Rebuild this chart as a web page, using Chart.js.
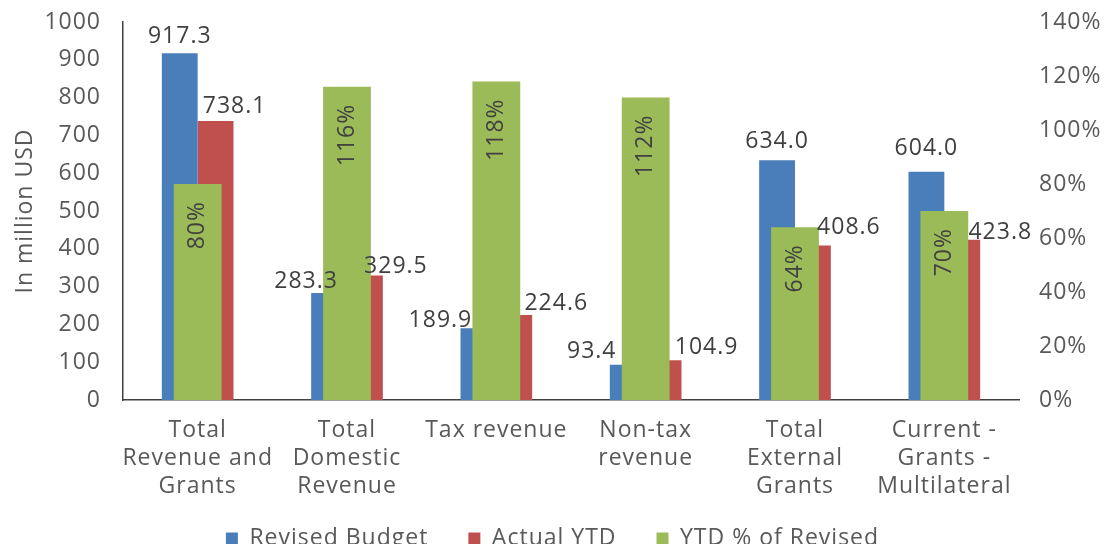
<!DOCTYPE html>
<html>
<head>
<meta charset="utf-8">
<script src="https://cdn.jsdelivr.net/npm/chart.js@4.4.1/dist/chart.umd.min.js"></script>
<style>
  html, body { margin: 0; padding: 0; overflow: hidden; background: #fff; }
  #wrap { width: 1105px; height: 560px; }
</style>
</head>
<body>
<div id="wrap"><canvas id="chart1"></canvas></div>
<script>
const categories = [
    ['Total', 'Revenue and', 'Grants'],
    ['Total', 'Domestic', 'Revenue'],
    'Tax revenue',
    ['Non-tax', 'revenue'],
    ['Total', 'External', 'Grants'],
    ['Current -', 'Grants -', 'Multilateral']
]
const revisedBudget = [917.3, 283.3, 189.9, 93.4, 634.0, 604.0]
const actualYTD = [738.1, 329.5, 224.6, 104.9, 408.6, 423.8]
const ytdPctOfRevised = [80, 116, 118, 112, 64, 70]

Chart.defaults.font.family = "'Open Sans', sans-serif"
Chart.defaults.font.size = 23
Chart.defaults.color = '#595959'

// the original font is wider, so space the letters a bit
const wideText = {
    id: 'wideText',
    beforeLayout(chart) { chart.ctx.letterSpacing = '1px' },
    beforeDraw(chart) { chart.ctx.letterSpacing = '1px' }
}

// value labels: Excel had them nudged by hand, so keep per-bar shifts here
const barLabels = {
    id: 'barLabels',
    afterDatasetsDraw(chart, args, opts) {
        const ctx = chart.ctx
        ctx.save()
        ctx.font = opts.font
        ctx.fillStyle = opts.color
        ctx.textAlign = 'center'
        ctx.textBaseline = 'middle'
        ;[0, 1].forEach(di => {
            chart.getDatasetMeta(di).data.forEach((bar, i) => {
                const v = chart.data.datasets[di].data[i]
                ctx.fillText(v.toFixed(1), bar.x + opts.dx[di][i], bar.y - opts.dy[di][i])
            })
        })
        chart.getDatasetMeta(2).data.forEach((bar, i) => {
            ctx.save()
            ctx.translate(bar.x, bar.y + opts.inset)
            ctx.rotate(-Math.PI / 2)
            ctx.textAlign = 'right'
            ctx.fillText(chart.data.datasets[2].data[i] + '%', 0, 0)
            ctx.restore()
        })
        ctx.restore()
    }
}

let chart = new Chart('chart1', {
    type: 'bar',
    data: {
        labels: categories,
        datasets: [
            {
                label: 'Revised Budget',
                data: revisedBudget,
                backgroundColor: '#4a7ebb',
                borderWidth: 0,
                categoryPercentage: 0.48,
                barPercentage: 1,
                yAxisID: 'y',
                order: 1
            },
            {
                label: 'Actual YTD',
                data: actualYTD,
                backgroundColor: '#c0504d',
                borderWidth: 0,
                categoryPercentage: 0.48,
                barPercentage: 1,
                yAxisID: 'y',
                order: 1
            },
            {
                label: 'YTD % of Revised',
                data: ytdPctOfRevised,
                backgroundColor: '#9bbb59',
                borderWidth: 0,
                grouped: false,
                categoryPercentage: 0.32,
                barPercentage: 1,
                yAxisID: 'y1',
                order: 0
            }
        ]
    },
    options: {
        responsive: true,
        maintainAspectRatio: false,
        animation: false,
        layout: { padding: { top: 22, right: 0, left: 0, bottom: 0 } },
        scales: {
            x: {
                offset: true,
                grid: { display: false, drawTicks: false },
                border: { display: true, color: '#404040', width: 1.5 },
                ticks: { padding: 16, maxRotation: 0, autoSkip: false, font: { lineHeight: 1.22 } },
                afterFit: s => {
                    s.height = 87
                    // labels hang below the (short) box, don't clip them
                    s._computeLabelArea = () => null
                }
            },
            y: {
                position: 'left',
                min: 0,
                max: 1000,
                grid: { display: false, drawTicks: false },
                border: { display: true, color: '#404040', width: 1.5 },
                ticks: { stepSize: 100, padding: 22, callback: v => String(v) },
                title: { display: true, text: 'In million USD', padding: { top: 12, bottom: 0 } },
                afterFit: s => {
                    s.width = 123
                    s.paddingTop = 0
                }
            },
            y1: {
                position: 'right',
                min: 0,
                max: 140,
                grid: { display: false, drawTicks: false },
                border: { display: false },
                ticks: { stepSize: 20, padding: 20, callback: v => v + '%' },
                afterFit: s => {
                    s.width = 86
                    s.paddingTop = 0
                }
            }
        },
        plugins: {
            legend: {
                position: 'bottom',
                labels: {
                    boxWidth: 12,
                    boxHeight: 12,
                    padding: 40,
                    sort: (a, b) => a.datasetIndex - b.datasetIndex
                }
            },
            tooltip: { enabled: false },
            barLabels: {
                font: "23px 'Open Sans', sans-serif",
                color: '#404040',
                dx: [[0, -23, -38, -36, 0, 0], [19, 31, 42, 43, 36, 38]],
                dy: [[17, 11, 8, 13, 19, 23], [15, 9, 12, 13, 18, 7]],
                inset: 17
            }
        }
    },
    plugins: [wideText, barLabels]
})
</script>
</body>
</html>
